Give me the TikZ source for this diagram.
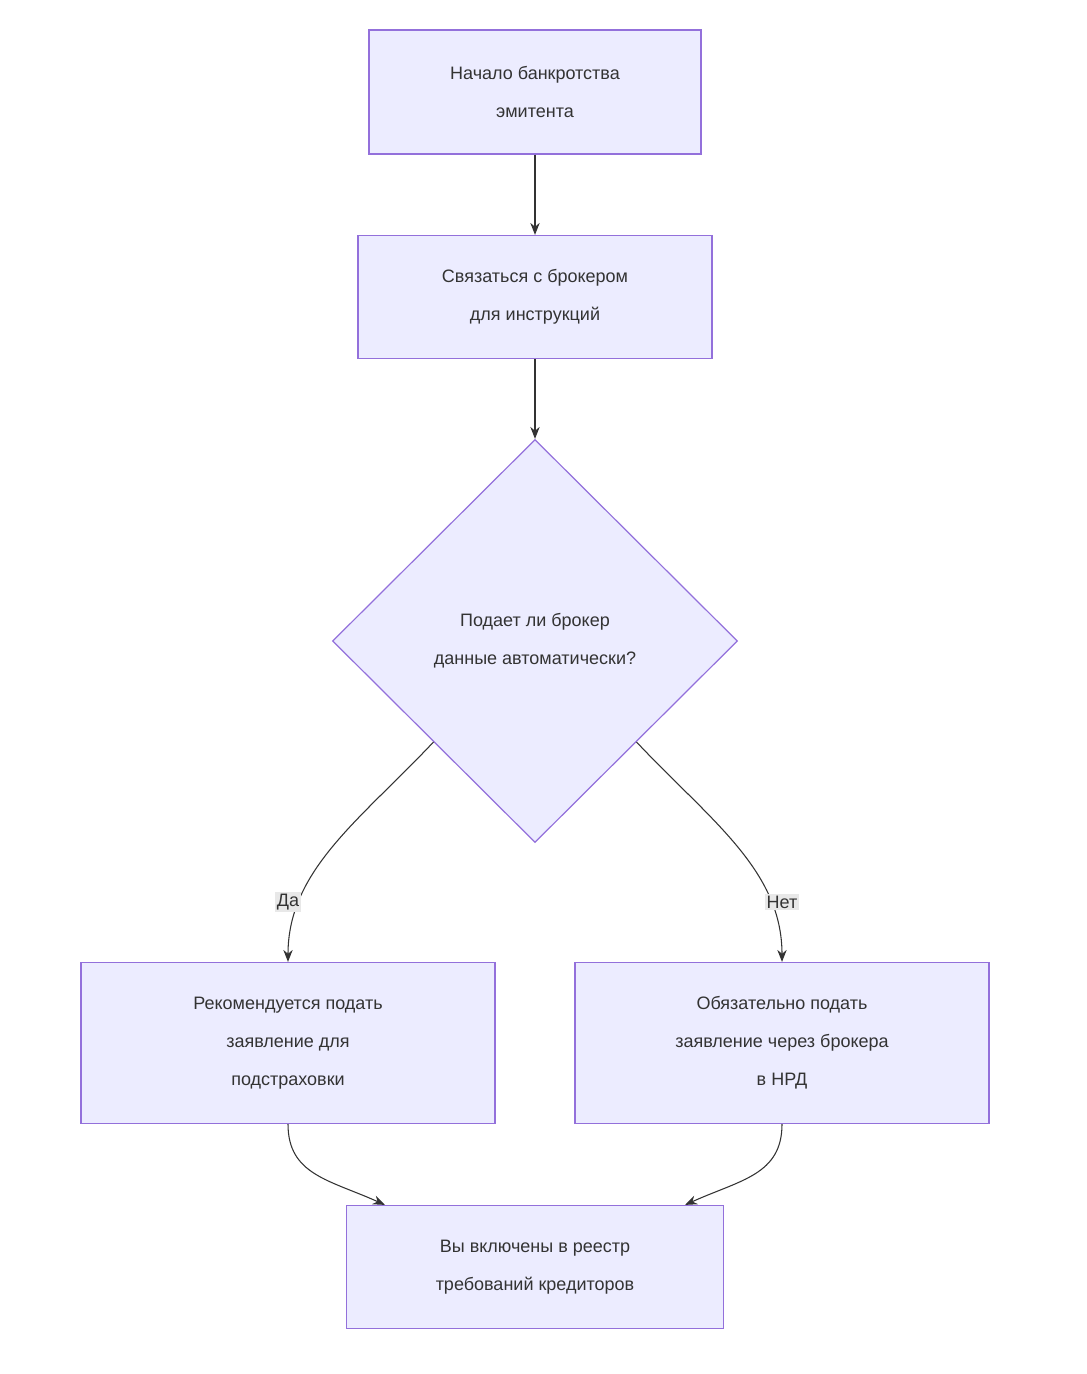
\documentclass[tikz,border=0pt]{standalone}
\usepackage{fontspec}
\setmainfont{Liberation Sans}
\usetikzlibrary{shapes.geometric,arrows.meta}
\definecolor{nfill}{HTML}{ECECFF}
\definecolor{nstroke}{HTML}{9370DB}
\definecolor{edge}{HTML}{333333}
\definecolor{lbl}{HTML}{E8E8E8}
\begin{document}
\begin{tikzpicture}[x=0.75pt,y=-0.75pt,
  box/.style={draw=nstroke,fill=nfill,line width=0.9pt,align=center,font=\fontsize{13.5pt}{28.5pt}\selectfont,text=edge,inner sep=0pt},
  dia/.style={diamond,draw=nstroke,fill=nfill,line width=0.9pt,align=center,font=\fontsize{13.5pt}{28.5pt}\selectfont,text=edge,inner sep=0pt,minimum width=303.75pt,minimum height=302.25pt},
  arr/.style={draw=edge,line width=0.8pt,-{Stealth[length=9pt,width=7pt]}},
  lab/.style={fill=lbl,font=\fontsize{13.5pt}{16pt}\selectfont,text=edge,inner sep=1.5pt}]
\useasboundingbox (0,0) rectangle (1087,1374);
\node[box,minimum width=249pt,minimum height=93pt] (A) at (535,92) {Начало банкротства\\эмитента};
\node[box,minimum width=265.5pt,minimum height=92.25pt] (B) at (535,297) {Связаться с брокером\\для инструкций};
\node[dia] (Q) at (535,641) {Подает ли брокер\\данные автоматически?};
\node[box,minimum width=310.5pt,minimum height=120.75pt] (C) at (288,1043) {Рекомендуется подать\\заявление для\\подстраховки};
\node[box,minimum width=310.5pt,minimum height=120.75pt] (D) at (782,1043) {Обязательно подать\\заявление через брокера\\в НРД};
\node[box,minimum width=282.75pt,minimum height=92.25pt] (E) at (535,1267) {Вы включены в реестр\\требований кредиторов};
\draw[arr] (A) -- (B);
\draw[arr] (B) -- (Q);
\draw[arr] (Q.south west) .. controls (360,820) and (288,870) .. (C.north);
\draw[arr] (Q.south east) .. controls (710,820) and (782,870) .. (D.north);
\node[lab] (ly) at (288,902) {Да};
\node[lab] (ln) at (782,902) {Нет};
\draw[arr] (C.south) .. controls (288,1175) and (330,1180) .. ([xshift=29.25pt]E.north west);
\draw[arr] (D.south) .. controls (782,1175) and (740,1180) .. ([xshift=-29.25pt]E.north east);
\end{tikzpicture}
\end{document}
